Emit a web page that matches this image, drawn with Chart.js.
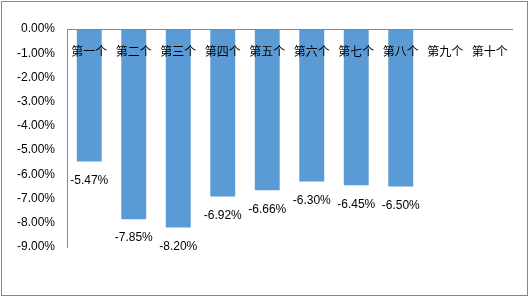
<!DOCTYPE html>
<html>
<head>
<meta charset="utf-8">
<script src="https://cdn.jsdelivr.net/npm/chart.js@4/dist/chart.umd.min.js"></script>
<style>
  html, body { margin: 0; padding: 0; background: #fff; }
  #wrap { position: relative; width: 530px; height: 297px; }
  #frame { position: absolute; left: 1px; top: 1px; width: 527px; height: 295px; box-sizing: border-box; border: 1px solid #868686; pointer-events: none; }
  canvas { position: absolute; left: 0; top: 0; }
</style>
</head>
<body>
<div id="wrap">
  <canvas id="chart" width="530" height="297"></canvas>
  <div id="frame"></div>
</div>
<script>
// categories and values (percent)
const categories = ['第一个', '第二个', '第三个', '第四个', '第五个', '第六个', '第七个', '第八个', '第九个', '第十个'];
const values = [-5.47, -7.85, -8.20, -6.92, -6.66, -6.30, -6.45, -6.50, null, null];
const yMin = -9;
const yMax = 0;
const yStep = 1;

const numFont = { family: '"Liberation Sans", Arial, sans-serif', size: 12 };
const cjkFont = { family: '"Noto Sans CJK SC", sans-serif', size: 12 };

// value labels under each bar end
const barLabels = {
    id: 'barLabels',
    afterDatasetsDraw(chart){
        const ctx = chart.ctx;
        const meta = chart.getDatasetMeta(0);
        ctx.save();
        ctx.font = numFont.size + 'px ' + numFont.family;
        ctx.fillStyle = '#000';
        ctx.textAlign = 'center';
        ctx.textBaseline = 'middle';
        meta.data.forEach((bar, i)=>{
            const v = values[i];
            if(v === null) return;
            ctx.fillText(v.toFixed(2) + '%', bar.x, bar.y + 19);
        });
        ctx.restore();
    }
};

new Chart(document.getElementById('chart'), {
    type: 'bar',
    data: {
        labels: categories,
        datasets: [{
            data: values,
            backgroundColor: '#5B9BD5',
            borderWidth: 0,
            barPercentage: 0.56,
            categoryPercentage: 1
        }]
    },
    options: {
        responsive: false,
        animation: false,
        devicePixelRatio: 1,
        layout: { padding: { left: 0, right: 18, top: 29, bottom: 50 } },
        plugins: { legend: { display: false }, tooltip: { enabled: false } },
        scales: {
            x: {
                position: { y: 0 },
                grid: { display: false, drawTicks: false },
                border: { display: true, color: '#868686', width: 1, z: 1 },
                ticks: { z: 1, color: '#000', font: cjkFont, padding: 15, maxRotation: 0, autoSkip: false }
            },
            y: {
                min: yMin,
                max: yMax,
                afterFit(scale){ scale.width = 67; },
                grid: { display: false, drawTicks: false },
                border: { display: true, color: '#868686', width: 1 },
                ticks: {
                    stepSize: yStep,
                    color: '#000',
                    font: numFont,
                    padding: 12,
                    callback: v => v.toFixed(2) + '%'
                }
            }
        }
    },
    plugins: [barLabels]
});
</script>
</body>
</html>
